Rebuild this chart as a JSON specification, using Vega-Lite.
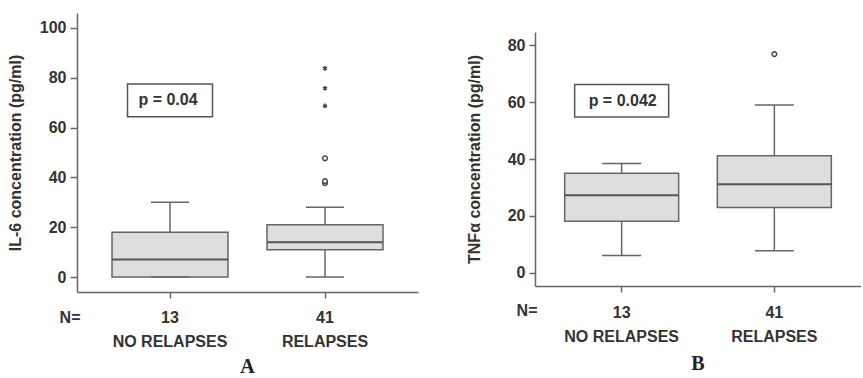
{
  "$schema": "https://vega.github.io/schema/vega-lite/v6.json",
  "background": "white",
  "padding": {"left": 7, "top": 13, "right": 0, "bottom": 0},
  "spacing": 48,
  "config": {
    "view": {"stroke": null},
    "font": "Liberation Sans",
    "axis": {
      "domainColor": "#666",
      "domainWidth": 1.5,
      "tickColor": "#666",
      "tickWidth": 1.5,
      "labelColor": "#333",
      "titleColor": "#333",
      "labelFont": "Liberation Sans",
      "titleFont": "Liberation Sans",
      "labelFontSize": 16,
      "labelFontWeight": "bold",
      "titleFontSize": 16,
      "titleFontWeight": "bold",
      "grid": false
    }
  },
  "datasets": {
    "il6_box": [
      {"group": "NO RELAPSES", "lower": 0, "q1": 0, "median": 7, "q3": 18, "upper": 30},
      {"group": "RELAPSES", "lower": 0, "q1": 11, "median": 14, "q3": 21, "upper": 28}
    ],
    "il6_out": [
      {"group": "RELAPSES", "value": 37.7, "kind": "outlier"},
      {"group": "RELAPSES", "value": 38.5, "kind": "outlier"},
      {"group": "RELAPSES", "value": 47.7, "kind": "outlier"},
      {"group": "RELAPSES", "value": 68.7, "kind": "extreme"},
      {"group": "RELAPSES", "value": 75.8, "kind": "extreme"},
      {"group": "RELAPSES", "value": 83.8, "kind": "extreme"}
    ],
    "il6_p": [
      {"group": "NO RELAPSES", "lo": 64.4, "hi": 77.5, "mid": 71, "label": "p = 0.04"}
    ],
    "tnf_box": [
      {"group": "NO RELAPSES", "lower": 6, "q1": 18.1, "median": 27.2, "q3": 35, "upper": 38.4},
      {"group": "RELAPSES", "lower": 7.7, "q1": 22.9, "median": 31.1, "q3": 41.1, "upper": 59}
    ],
    "tnf_out": [
      {"group": "RELAPSES", "value": 76.9, "kind": "outlier"}
    ],
    "tnf_p": [
      {"group": "NO RELAPSES", "lo": 54.8, "hi": 66.2, "mid": 60.5, "label": "p = 0.042"}
    ]
  },
  "hconcat": [
    {
      "width": 341,
      "height": 279,
      "title": {"text": "A", "orient": "bottom", "font": "Liberation Serif", "fontSize": 20, "fontWeight": "bold", "color": "#222", "offset": 8},
      "encoding": {
        "x": {
          "field": "group", "type": "nominal",
          "scale": {"domain": ["NO RELAPSES", "RELAPSES"], "paddingInner": 0, "paddingOuter": 0.1},
          "axis": {
            "labelAngle": 0, "tickSize": 6, "labelPadding": 11, "labelLineHeight": 24,
            "labelExpr": "[datum.label == 'RELAPSES' ? '41' : '13', datum.label]",
            "title": "N=", "titleX": 3, "titleY": 25, "titleAlign": "right", "titleBaseline": "middle", "titleAnchor": "start"
          }
        }
      },
      "layer": [
        {
          "data": {"name": "il6_box"},
          "mark": {"type": "rule", "color": "#666", "strokeWidth": 1.5},
          "encoding": {
            "y": {"field": "lower", "type": "quantitative",
              "scale": {"domain": [-6, 106], "nice": false, "zero": false},
              "axis": {"values": [0, 20, 40, 60, 80, 100], "tickSize": 7, "labelPadding": 4, "titlePadding": 16, "title": "IL-6 concentration (pg/ml)"}},
            "y2": {"field": "upper"}
          }
        },
        {
          "data": {"name": "il6_box"},
          "mark": {"type": "bar", "size": 116, "fill": "#dedede", "stroke": "#666", "strokeWidth": 1.5},
          "encoding": {"y": {"field": "q1", "type": "quantitative"}, "y2": {"field": "q3"}}
        },
        {
          "data": {"name": "il6_box"},
          "mark": {"type": "tick", "size": 116, "thickness": 2, "color": "#555", "opacity": 1},
          "encoding": {"y": {"field": "median", "type": "quantitative"}}
        },
        {
          "data": {"name": "il6_box"},
          "mark": {"type": "tick", "size": 38, "thickness": 1.5, "color": "#666", "opacity": 1},
          "encoding": {"y": {"field": "upper", "type": "quantitative"}}
        },
        {
          "data": {"name": "il6_box"},
          "mark": {"type": "tick", "size": 38, "thickness": 1.5, "color": "#666", "opacity": 1},
          "encoding": {"y": {"field": "lower", "type": "quantitative"}}
        },
        {
          "data": {"name": "il6_out"},
          "mark": {"type": "point", "size": 22, "strokeWidth": 1.4, "opacity": 1},
          "encoding": {
            "y": {"field": "value", "type": "quantitative"},
            "shape": {"field": "kind", "type": "nominal", "scale": {"domain": ["outlier", "extreme"], "range": ["circle", "M0,-1L0,1M-0.87,-0.5L0.87,0.5M-0.87,0.5L0.87,-0.5"]}, "legend": null},
            "color": {"value": "#444"},
            "fill": {"field": "kind", "type": "nominal", "scale": {"domain": ["outlier", "extreme"], "range": ["white", "#444"]}, "legend": null}
          }
        },
        {
          "data": {"name": "il6_p"},
          "mark": {"type": "bar", "size": 85, "fill": "white", "stroke": "#555", "strokeWidth": 1.5},
          "encoding": {"y": {"field": "lo", "type": "quantitative"}, "y2": {"field": "hi"}}
        },
        {
          "data": {"name": "il6_p"},
          "mark": {"type": "text", "fontSize": 16, "fontWeight": "bold", "color": "#333", "baseline": "middle", "dx": -2},
          "encoding": {"y": {"field": "mid", "type": "quantitative"}, "text": {"field": "label"}}
        }
      ]
    },
    {
      "spacing": 0,
      "vconcat": [
        {
          "width": 326,
          "height": 18.7,
          "data": {"values": []},
          "mark": {"type": "point"},
          "encoding": {}
        },
        {
          "width": 326,
          "height": 254,
          "title": {"text": "B", "orient": "bottom", "font": "Liberation Serif", "fontSize": 20, "fontWeight": "bold", "color": "#222", "offset": 10},
          "encoding": {
            "x": {
              "field": "group", "type": "nominal",
              "scale": {"domain": ["NO RELAPSES", "RELAPSES"], "paddingInner": 0, "paddingOuter": 0.0675},
              "axis": {
                "labelAngle": 0, "tickSize": 6, "labelPadding": 12, "labelLineHeight": 24,
                "labelExpr": "[datum.label == 'RELAPSES' ? '41' : '13', datum.label]",
                "title": "N=", "titleX": 2, "titleY": 24.5, "titleAlign": "right", "titleBaseline": "middle", "titleAnchor": "start"
              }
            }
          },
          "layer": [
            {
              "data": {"name": "tnf_box"},
              "mark": {"type": "rule", "color": "#666", "strokeWidth": 1.5},
              "encoding": {
                "y": {"field": "lower", "type": "quantitative",
                  "scale": {"domain": [-4.7, 84.7], "nice": false, "zero": false},
                  "axis": {"values": [0, 20, 40, 60, 80], "tickSize": 6, "labelPadding": 4, "titlePadding": 25, "title": "TNFα concentration (pg/ml)"}},
                "y2": {"field": "upper"}
              }
            },
            {
              "data": {"name": "tnf_box"},
              "mark": {"type": "bar", "size": 114, "fill": "#dedede", "stroke": "#666", "strokeWidth": 1.5},
              "encoding": {"y": {"field": "q1", "type": "quantitative"}, "y2": {"field": "q3"}}
            },
            {
              "data": {"name": "tnf_box"},
              "mark": {"type": "tick", "size": 114, "thickness": 2, "color": "#555", "opacity": 1},
              "encoding": {"y": {"field": "median", "type": "quantitative"}}
            },
            {
              "data": {"name": "tnf_box"},
              "mark": {"type": "tick", "size": 39, "thickness": 1.5, "color": "#666", "opacity": 1},
              "encoding": {"y": {"field": "upper", "type": "quantitative"}}
            },
            {
              "data": {"name": "tnf_box"},
              "mark": {"type": "tick", "size": 39, "thickness": 1.5, "color": "#666", "opacity": 1},
              "encoding": {"y": {"field": "lower", "type": "quantitative"}}
            },
            {
              "data": {"name": "tnf_out"},
              "mark": {"type": "point", "shape": "circle", "size": 22, "strokeWidth": 1.4, "color": "#444", "fill": "white", "filled": false, "opacity": 1},
              "encoding": {"y": {"field": "value", "type": "quantitative"}}
            },
            {
              "data": {"name": "tnf_p"},
              "mark": {"type": "bar", "size": 94, "fill": "white", "stroke": "#555", "strokeWidth": 1.5},
              "encoding": {"y": {"field": "lo", "type": "quantitative"}, "y2": {"field": "hi"}}
            },
            {
              "data": {"name": "tnf_p"},
              "mark": {"type": "text", "fontSize": 16, "fontWeight": "bold", "color": "#333", "baseline": "middle", "dx": 1},
              "encoding": {"y": {"field": "mid", "type": "quantitative"}, "text": {"field": "label"}}
            }
          ]
        }
      ]
    }
  ]
}
